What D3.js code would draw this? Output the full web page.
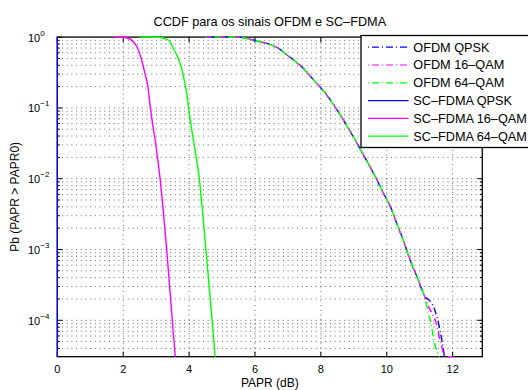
<!DOCTYPE html>
<html>
<head>
<meta charset="utf-8">
<script src="https://cdn.jsdelivr.net/npm/d3@7"></script>
<style>
  body { margin: 0; background: #fff; }
  text { font-family: "Liberation Sans", Arial, Helvetica, sans-serif; fill: #000; }
</style>
</head>
<body>
<div id="chart"></div>
<script>
// values
var xTicks = [0, 2, 4, 6, 8, 10, 12];
var yDecades = [1e-4, 1e-3, 1e-2, 1e-1, 1];
var yExps = ["\u22124", "\u22123", "\u22122", "\u22121", "0"];

// OFDM curves share the same shape until the tail
var ofdmHeadPapr = [4.49, 5.56, 5.95, 6.16, 6.51, 6.74, 6.97, 7.42, 7.83, 8.18, 8.59, 9.04, 9.35, 9.60, 9.90, 10.11, 10.31, 10.51, 10.71, 10.92, 11.12];
var ofdmHeadCcdf = [1, 0.99, 0.91, 0.86, 0.77, 0.68, 0.56, 0.38, 0.234, 0.152, 0.0794, 0.0352, 0.0194, 0.0119, 0.00622, 0.00403, 0.00229, 0.00132, 7.1e-4, 4.1e-4, 2.35e-4];

var ofdmQpskTailPapr = [11.42, 11.57, 11.68, 11.75];
var ofdmQpskTailCcdf = [1.56e-4, 9.1e-5, 5.0e-5, 3.06e-5];
var ofdm16TailPapr = [11.27, 11.50, 11.63, 11.78, 12.0];
var ofdm16TailCcdf = [1.56e-4, 9.1e-5, 5.0e-5, 3.06e-5, 3.06e-5];
var ofdm64TailPapr = [11.22, 11.34, 11.44, 11.60];
var ofdm64TailCcdf = [1.56e-4, 9.1e-5, 5.0e-5, 3.06e-5];

var scQpskPapr = [0, 0];
var scQpskCcdf = [1, 3.06e-5];
var sc16Papr = [1.72, 2.06, 2.31, 2.46, 2.56, 2.66, 2.75, 2.82, 2.89, 2.97, 3.12, 3.32, 3.49, 3.58];
var sc16Ccdf = [1, 0.987, 0.861, 0.657, 0.475, 0.308, 0.199, 0.104, 0.0606, 0.0352, 0.01, 1e-3, 1e-4, 3.06e-5];
var sc64Papr = [2.49, 3.07, 3.37, 3.52, 3.65, 3.76, 3.85, 3.93, 3.98, 4.05, 4.13, 4.31, 4.51, 4.70, 4.79];
var sc64Ccdf = [1, 0.994, 0.910, 0.695, 0.529, 0.382, 0.248, 0.161, 0.104, 0.0606, 0.0352, 0.01, 1e-3, 1e-4, 3.06e-5];

var legendNames = ["OFDM QPSK", "OFDM 16\u2013QAM", "OFDM 64\u2013QAM", "SC\u2013FDMA QPSK", "SC\u2013FDMA 16\u2013QAM", "SC\u2013FDMA 64\u2013QAM"];

var W = 528, H = 390;
var pLeft = 57.3, pRight = 482.3, pTop = 37.1, pBottom = 356.7;

var x = d3.scaleLinear().domain([0, 12.9]).range([pLeft, pRight]);
var y = d3.scaleLog().domain([3.06e-5, 1]).range([pBottom, pTop]);

var zip = function (xs, ys) {
    return xs.map(function (v, i) { return [v, ys[i]]; });
};

var series = [
    { pts: zip(ofdmHeadPapr.concat(ofdmQpskTailPapr), ofdmHeadCcdf.concat(ofdmQpskTailCcdf)), color: "#0000ff", dash: "1,3,7,3", offset: 0 },
    { pts: zip(ofdmHeadPapr.concat(ofdm16TailPapr), ofdmHeadCcdf.concat(ofdm16TailCcdf)), color: "#ff00ff", dash: "1,3,7,3", offset: 4.7 },
    { pts: zip(ofdmHeadPapr.concat(ofdm64TailPapr), ofdmHeadCcdf.concat(ofdm64TailCcdf)), color: "#00ff00", dash: "1,3,7,3", offset: 9.4 },
    { pts: zip(scQpskPapr, scQpskCcdf), color: "#0000ff", dash: null, linear: true },
    { pts: zip(sc16Papr, sc16Ccdf), color: "#ff00ff", dash: null },
    { pts: zip(sc64Papr, sc64Ccdf), color: "#00ff00", dash: null }
];

var svg = d3.select("#chart").append("svg")
    .attr("width", W).attr("height", H)
    .style("display", "block").style("background", "#fff");

svg.append("defs").append("clipPath").attr("id", "plotclip")
    .append("rect").attr("x", pLeft - 1).attr("y", pTop - 1)
    .attr("width", pRight - pLeft + 2).attr("height", pBottom - pTop + 2);

// grid
var grid = svg.append("g").attr("stroke", "#1a1a1a").attr("stroke-width", 0.65)
    .attr("stroke-dasharray", "1,3.7").attr("fill", "none");

xTicks.filter(function (d) { return d > 0; }).forEach(function (d) {
    grid.append("line").attr("x1", x(d)).attr("x2", x(d)).attr("y1", pTop).attr("y2", pBottom);
});

var minorVals = [];
yDecades.forEach(function (d) {
    for (var k = 2; k <= 9; k++) {
        if (d * k / 10 >= 3.06e-5) minorVals.push(d * k / 10);
    }
});
yDecades.concat(minorVals).forEach(function (d) {
    if (d >= 1) return;
    grid.append("line").attr("x1", pLeft).attr("x2", pRight).attr("y1", y(d)).attr("y2", y(d));
});

// axes box and ticks
var axes = svg.append("g").attr("stroke", "#000").attr("stroke-width", 1);
axes.append("rect").attr("x", pLeft).attr("y", pTop).attr("width", pRight - pLeft).attr("height", pBottom - pTop)
    .attr("fill", "none").attr("stroke-width", 1.3);

xTicks.forEach(function (d) {
    axes.append("line").attr("x1", x(d)).attr("x2", x(d)).attr("y1", pBottom).attr("y2", pBottom - 5);
    axes.append("line").attr("x1", x(d)).attr("x2", x(d)).attr("y1", pTop).attr("y2", pTop + 5);
});
yDecades.forEach(function (d) {
    axes.append("line").attr("x1", pLeft).attr("x2", pLeft + 5).attr("y1", y(d)).attr("y2", y(d));
    axes.append("line").attr("x1", pRight).attr("x2", pRight - 5).attr("y1", y(d)).attr("y2", y(d));
});
minorVals.forEach(function (d) {
    axes.append("line").attr("x1", pLeft).attr("x2", pLeft + 2.5).attr("y1", y(d)).attr("y2", y(d));
    axes.append("line").attr("x1", pRight).attr("x2", pRight - 2.5).attr("y1", y(d)).attr("y2", y(d));
});

// tick labels
svg.append("g").selectAll("text").data(xTicks).enter().append("text")
    .attr("x", function (d) { return x(d); }).attr("y", pBottom + 16.5)
    .attr("text-anchor", "middle").style("font-size", "11px")
    .text(function (d) { return d; });

var ylab = svg.append("g").selectAll("text").data(yDecades).enter().append("text")
    .attr("x", 28).attr("y", function (d) { return y(d) + 4.5; })
    .style("font-size", "11px");
ylab.append("tspan").text("10");
ylab.append("tspan").attr("dy", -6).style("font-size", "8px")
    .text(function (d, i) { return yExps[i]; });

// curves
var plot = svg.append("g").attr("clip-path", "url(#plotclip)");
series.forEach(function (s) {
    var lineFunc = d3.line()
        .x(function (d) { return x(d[0]); })
        .y(function (d) { return y(d[1]); })
        .curve(s.linear ? d3.curveLinear : d3.curveMonotoneX);
    var p = plot.append("path").attr("d", lineFunc(s.pts))
        .attr("fill", "none").attr("stroke", s.color).attr("stroke-width", 1.4);
    if (s.dash) {
        p.attr("stroke-dasharray", s.dash).attr("stroke-dashoffset", s.offset);
    }
});

// title and axis labels
svg.append("text").attr("x", (pLeft + pRight) / 2).attr("y", 26)
    .attr("text-anchor", "middle").style("font-size", "12.7px")
    .text("CCDF para os sinais OFDM e SC\u2013FDMA");
svg.append("text").attr("x", (pLeft + pRight) / 2).attr("y", 386.5)
    .attr("text-anchor", "middle").style("font-size", "12px")
    .text("PAPR (dB)");
svg.append("text").attr("transform", "translate(19," + ((pTop + pBottom) / 2) + ") rotate(-90)")
    .attr("text-anchor", "middle").style("font-size", "12px")
    .text("Pb (PAPR > PAPR0)");

// legend
var legend = svg.append("g");
legend.append("rect").attr("x", 361).attr("y", 35.5).attr("width", 200).attr("height", 112)
    .attr("fill", "#fff").attr("stroke", "#000").attr("stroke-width", 1.3);
legendNames.forEach(function (name, i) {
    var ly = 47.2 + i * 17.8;
    var s = series[i];
    var l = legend.append("line").attr("x1", 368).attr("x2", 408.5).attr("y1", ly).attr("y2", ly)
        .attr("stroke", s.color).attr("stroke-width", 1.2);
    if (s.dash) l.attr("stroke-dasharray", s.dash);
    legend.append("text").attr("x", 413.3).attr("y", ly + 4.3)
        .style("font-size", "12.7px").text(name);
});
</script>
</body>
</html>
